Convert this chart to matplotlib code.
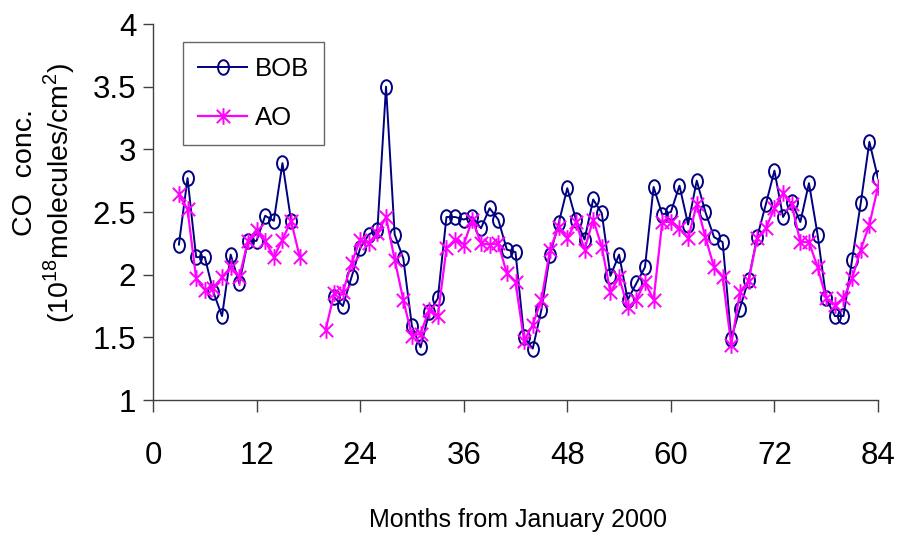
import matplotlib
matplotlib.use("Agg")
import matplotlib.pyplot as plt
import numpy as np
from matplotlib.path import Path
from matplotlib.ticker import FuncFormatter

nan = np.nan

# months since January 2000
months = np.arange(3, 85)

bob = [2.24, 2.77, 2.14, 2.14, 1.86, 1.67, 2.16, 1.93, 2.27, 2.27, 2.47, 2.43, 2.89, 2.43,
       nan, nan, nan, nan,
       1.82, 1.75, 1.98, 2.21, 2.32, 2.36, 3.50, 2.32, 2.13, 1.59,
       1.42, 1.70, 1.81, 2.46, 2.46, 2.44, 2.46, 2.37, 2.53, 2.44,
       2.20, 2.18, 1.50, 1.41, 1.72, 2.16, 2.41, 2.69, 2.44, 2.28,
       2.60, 2.49, 1.99, 2.16, 1.80, 1.93, 2.06, 2.70, 2.48, 2.50,
       2.71, 2.40, 2.75, 2.50, 2.30, 2.26, 1.49, 1.73, 1.96, 2.30,
       2.56, 2.83, 2.46, 2.58, 2.42, 2.73, 2.32, 1.81, 1.67, 1.67,
       2.12, 2.57, 3.06, 2.77]

ao = [2.64, 2.52, 1.97, 1.88, 1.89, 1.98, 2.06, 1.98, 2.27, 2.36, 2.27, 2.14, 2.28, 2.43, 2.14,
      nan, nan,
      1.56,
      1.85, 1.86, 2.09, 2.28, 2.25, 2.33, 2.46, 2.12, 1.80, 1.51,
      1.53, 1.72, 1.67, 2.21, 2.28, 2.24, 2.44, 2.25, 2.24, 2.25,
      2.01, 1.94, 1.47, 1.60, 1.80, 2.20, 2.38, 2.29, 2.42, 2.20,
      2.44, 2.22, 1.86, 1.98, 1.74, 1.80, 1.94, 1.80, 2.42, 2.42,
      2.37, 2.29, 2.56, 2.30, 2.06, 1.98, 1.44, 1.86, 1.95, 2.29,
      2.37, 2.53, 2.65, 2.56, 2.26, 2.26, 2.06, 1.81, 1.76, 1.81,
      1.97, 2.20, 2.40, 2.70]

xticks = [0, 12, 24, 36, 48, 60, 72, 84]
yticks = [1, 1.5, 2, 2.5, 3, 3.5, 4]

plt.rcParams["font.family"] = ["Liberation Sans", "DejaVu Sans"]
plt.rcParams["mathtext.fontset"] = "custom"
plt.rcParams["mathtext.rm"] = "Liberation Sans"

# tall open ellipse, and excel-like asterisk (vertical bar + X)
circ = Path.unit_circle()
ellipse = Path(circ.vertices * [0.75, 1.0], circ.codes)
star = Path([(0, -1), (0, 1), (-0.8, -0.8), (0.8, 0.8), (-0.8, 0.8), (0.8, -0.8)],
            [Path.MOVETO, Path.LINETO] * 3)

fig = plt.figure(figsize=(9.01, 5.39), dpi=100)
ax = fig.add_axes([153 / 901, 1 - 400 / 539, 725 / 901, 376 / 539])

ax.plot(months, np.array(bob, float), color="#000080", lw=1.4, marker=ellipse,
        ms=10.5, mfc="none", mec="#000080", mew=1.4, label="BOB", zorder=3)
ax.plot(months, np.array(ao, float), color="#ff00ff", lw=1.6, marker=star,
        ms=12, mec="#ff00ff", mew=1.4, label="AO", zorder=4)

ax.set_xlim(0, 84)
ax.set_ylim(1, 4)
ax.set_xticks(xticks)
ax.set_yticks(yticks)
ax.yaxis.set_major_formatter(FuncFormatter(lambda v, p: f"{v:g}"))
for s in ["top", "right"]:
    ax.spines[s].set_visible(False)
for s in ["left", "bottom"]:
    ax.spines[s].set_color("#404040")
    ax.spines[s].set_linewidth(1.0)
ax.tick_params(axis="x", direction="out", length=8.6, width=1, color="#404040",
               labelsize=22.5, pad=21)
ax.tick_params(axis="y", direction="out", length=7, width=1, color="#404040",
               labelsize=22.5, pad=5)

fig.text(518 / 901, 1 - 520 / 539, "Months from January 2000", ha="center",
         va="center", fontsize=18)
fig.text(25 / 901, 1 - 173 / 539, "CO  conc.", rotation=90, ha="center",
         va="center", fontsize=20.5)
fig.text(59 / 901, 1 - 193 / 539, "(10$^{18}$molecules/cm$^{2}$)", rotation=90,
         ha="center", va="center", fontsize=20.5)

leg = ax.legend(loc="upper left", bbox_to_anchor=(0.041, 0.952), borderaxespad=0,
                fontsize=18.5, frameon=True, fancybox=False, handlelength=1.9,
                handletextpad=0.3, labelspacing=0.95, borderpad=0.6)
leg.get_frame().set_edgecolor("#404040")
leg.get_frame().set_linewidth(1.0)

fig.savefig("out.png", dpi=100)
